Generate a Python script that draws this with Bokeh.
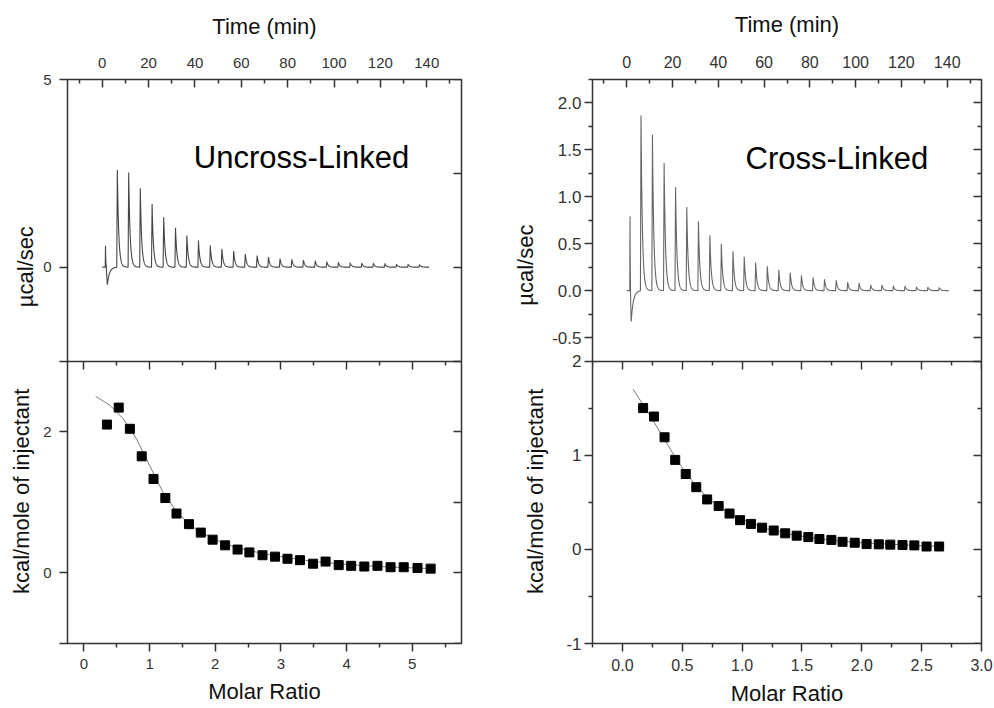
import math
import numpy as np
from bokeh.plotting import figure
from bokeh.models import Range1d, LinearAxis, FixedTicker, PrintfTickFormatter
from bokeh.layouts import row
from bokeh.embed import file_html
from bokeh.resources import INLINE
from bokeh.core.properties import value

# ---------------- data ----------------
# Uncross-Linked thermogram: injection times (min) and peak heights (ucal/sec)
INJ_T_L = [1.4, 6.5, 11.4, 16.4, 21.5, 26.5, 31.6, 36.5, 41.5, 46.6, 51.6, 56.7, 61.7, 66.8,
           71.7, 76.7, 81.8, 86.8, 91.9, 96.9, 101.9, 107.0, 112.0, 117.0, 122.0, 127.0, 132.0, 136.9]
PEAK_L = [0.57, 2.59, 2.52, 2.10, 1.68, 1.33, 1.05, 0.84, 0.71, 0.58, 0.49, 0.43, 0.35, 0.31,
          0.27, 0.23, 0.21, 0.19, 0.17, 0.15, 0.13, 0.12, 0.11, 0.11, 0.10, 0.08, 0.08, 0.07]
DIP_T_L, DIP_H_L, END_T_L = 2.2, -0.47, 141.0

# Cross-Linked thermogram
INJ_T_R = [1.4, 6.2, 11.2, 16.3, 21.3, 26.2, 31.3, 36.3, 41.3, 46.4, 51.3, 56.3, 61.4, 66.4,
           71.4, 76.3, 81.4, 86.4, 91.5, 96.5, 101.5, 106.6, 111.5, 116.5, 121.6, 126.6, 131.6, 136.5]
PEAK_R = [0.79, 1.87, 1.66, 1.36, 1.10, 0.89, 0.74, 0.59, 0.50, 0.42, 0.36, 0.30, 0.26, 0.22,
          0.19, 0.16, 0.14, 0.12, 0.11, 0.09, 0.08, 0.06, 0.06, 0.05, 0.05, 0.04, 0.04, 0.035]
DIP_T_R, DIP_H_R, END_T_R = 1.9, -0.34, 140.7

# Integrated heats (kcal/mole of injectant) vs molar ratio
RATIO_L = [0.35, 0.53, 0.70, 0.88, 1.06, 1.24, 1.41, 1.60, 1.78, 1.96, 2.15, 2.34, 2.52, 2.72,
           2.91, 3.10, 3.29, 3.49, 3.68, 3.88, 4.07, 4.27, 4.47, 4.67, 4.87, 5.08, 5.28]
HEAT_L = [2.10, 2.34, 2.04, 1.65, 1.33, 1.06, 0.84, 0.69, 0.57, 0.47, 0.39, 0.33, 0.29, 0.25,
          0.23, 0.20, 0.18, 0.13, 0.16, 0.11, 0.10, 0.09, 0.10, 0.08, 0.08, 0.07, 0.06]
FIT_X_L = [0.18, 0.4, 0.6, 0.8, 1.0, 1.2, 1.4, 1.6, 1.8, 2.0, 2.25, 2.5, 2.75, 3.0, 3.5, 4.0, 4.5, 5.0, 5.3]
FIT_Y_L = [2.50, 2.37, 2.18, 1.90, 1.52, 1.15, 0.88, 0.69, 0.57, 0.47, 0.38, 0.32, 0.27, 0.23,
           0.16, 0.12, 0.09, 0.07, 0.06]

RATIO_R = [0.173, 0.264, 0.352, 0.441, 0.529, 0.617, 0.708, 0.804, 0.895, 0.983, 1.074, 1.167,
           1.264, 1.360, 1.456, 1.553, 1.646, 1.746, 1.839, 1.941, 2.040, 2.142, 2.238, 2.340,
           2.439, 2.541, 2.646]
HEAT_R = [1.50, 1.41, 1.19, 0.95, 0.80, 0.66, 0.53, 0.46, 0.38, 0.31, 0.27, 0.23, 0.20, 0.17,
          0.145, 0.13, 0.11, 0.10, 0.08, 0.07, 0.056, 0.053, 0.05, 0.046, 0.042, 0.03, 0.03]
FIT_X_R = [0.09, 0.17, 0.26, 0.35, 0.44, 0.53, 0.62, 0.71, 0.80, 0.90, 1.0, 1.2, 1.4, 1.6, 1.8,
           2.0, 2.3, 2.65]
FIT_Y_R = [1.70, 1.54, 1.36, 1.17, 0.98, 0.81, 0.67, 0.55, 0.46, 0.38, 0.32, 0.22, 0.16, 0.12,
           0.09, 0.07, 0.05, 0.03]

# panel labels
TITLE_L, TITLE_L_X, TITLE_L_Y = "Uncross-Linked", 39.5, 2.93
TITLE_R, TITLE_R_X, TITLE_R_Y = "Cross-Linked", 51.9, 1.41
Y_TITLE_TOP = "\u00b5cal/sec"
Y_TITLE_BOTTOM = "kcal/mole of injectant"
X_TITLE_TOP = "Time (min)"
X_TITLE_BOTTOM = "Molar Ratio"

# axis ranges, ticks and tick labels
TIME_RANGE = (-15, 155)
TIME_MAJOR = [0, 20, 40, 60, 80, 100, 120, 140]
TIME_MINOR = [-10, 10, 30, 50, 70, 90, 110, 130, 150]

UCAL_L_RANGE = (-2.5, 5)
UCAL_L_TICKS = [-2.5, 0, 2.5, 5]
UCAL_L_LABELS = ["", "0", "", "5"]
KCAL_L_RANGE = (-1, 3)
KCAL_L_TICKS = [-1, 0, 1, 2]
KCAL_L_LABELS = ["", "0", "", "2"]
RATIO_L_RANGE = (-0.25, 5.75)
RATIO_L_MAJOR = [0, 1, 2, 3, 4, 5]
RATIO_L_MINOR = [0.5, 1.5, 2.5, 3.5, 4.5, 5.5]

UCAL_R_RANGE = (-0.75, 2.25)
UCAL_R_TICKS = [-0.5, 0.0, 0.5, 1.0, 1.5, 2.0]
UCAL_R_LABELS = ["-0.5", "0.0", "0.5", "1.0", "1.5", "2.0"]
UCAL_R_MINOR = [-0.25, 0.25, 0.75, 1.25, 1.75, 2.25]
KCAL_R_RANGE = (-1, 2)
KCAL_R_TICKS = [-1, 0, 1, 2]
KCAL_R_LABELS = ["-1", "0", "1", "2"]
KCAL_R_MINOR = [-0.5, 0.5, 1.5]
RATIO_R_RANGE = (-0.25, 3.0)
RATIO_R_MAJOR = [0.0, 0.5, 1.0, 1.5, 2.0, 2.5, 3.0]
RATIO_R_MINOR = [-0.25, 0.25, 0.75, 1.25, 1.75, 2.25, 2.75]

# ---------------- style / layout ----------------
FONT = "Liberation Sans"
LINE_C = "#333333"
TICK_TXT_C = "#333333"
TITLE_C = "#111111"
H = 708
TB, BB = 79, 64
FRAME_H = H - TB - BB
TOP_PX = 282


def thermogram(times, heights, dip_t, dip_h, t_end):
    t = np.arange(0.0, t_end, 0.02)
    y = np.zeros_like(t)
    for i, (t0, h) in enumerate(zip(times, heights)):
        rise, tau = (0.12, 0.12) if i == 0 else (0.25, 0.6)
        dt = t - t0
        up = (dt > -rise) & (dt <= 0)
        y[up] += h * (dt[up] + rise) / rise
        dn = dt > 0
        y[dn] += h * np.exp(-dt[dn] / tau)
    dt = t - dip_t
    up = (dt > -0.5) & (dt <= 0)
    y[up] += dip_h * (dt[up] + 0.5) / 0.5
    dn = dt > 0
    y[dn] += dip_h * np.exp(-dt[dn] / 0.9)
    return t, y


def make_axis(ticks, minor, out, label_px=15, standoff=8, labels=True, title=None,
              title_standoff=5, fmt=None, overrides=None, tick_out=8, **kw):
    ax = LinearAxis(ticker=FixedTicker(ticks=ticks, minor_ticks=minor), **kw)
    if out:
        ax.major_tick_out, ax.major_tick_in, ax.minor_tick_out, ax.minor_tick_in = tick_out, 0, 4, 0
    else:
        ax.major_tick_out, ax.major_tick_in, ax.minor_tick_out, ax.minor_tick_in = 0, 8, 0, 4
    ax.major_tick_line_color = LINE_C
    ax.minor_tick_line_color = LINE_C
    ax.major_tick_line_width = 1.5
    ax.minor_tick_line_width = 1.5
    ax.axis_line_color = None
    if labels:
        ax.major_label_text_font = FONT
        ax.major_label_text_font_size = f"{label_px}px"
        ax.major_label_text_color = TICK_TXT_C
        ax.major_label_standoff = standoff
        if fmt:
            ax.formatter = PrintfTickFormatter(format=fmt)
        if overrides:
            ax.major_label_overrides = overrides
    else:
        ax.major_label_text_color = None
        ax.major_label_text_font_size = "1px"
        ax.major_label_standoff = 0
    if title:
        ax.axis_label = title
        ax.axis_label_text_font = FONT
        ax.axis_label_text_font_size = "22px"
        ax.axis_label_text_font_style = "normal"
        ax.axis_label_text_color = TITLE_C
        ax.axis_label_standoff = title_standoff
    return ax


def title_strip(width, x_centers, y_centers):
    """Narrow figure that carries the rotated y-axis titles of one column (page pixels)."""
    f = figure(width=width, height=H, x_range=Range1d(0, width), y_range=Range1d(H, 0),
               x_axis_location=None, y_axis_location=None, output_backend="svg",
               toolbar_location=None, min_border=0)
    f.grid.visible = False
    f.outline_line_color = None
    f.text(x=x_centers, y=y_centers, text=[Y_TITLE_TOP, Y_TITLE_BOTTOM], angle=math.pi / 2,
           text_align="center", text_baseline="middle", text_font=value(FONT),
           text_font_size="22px", text_color=TITLE_C)
    return f


def build(width, lb, rb, inj_t, peaks, dip_t, dip_h, t_end,
          ucal_rng, ucal_ticks, ucal_labels, ucal_minor,
          kcal_rng, kcal_ticks, kcal_labels, kcal_minor,
          ratio_rng, ratio_major, ratio_minor, rx, hy, fx, fy, title, tx, ty,
          x_px, y_px, xfmt, y_std, trace_color):
    t0 = ucal_rng[1] - (ucal_rng[1] - ucal_rng[0]) * FRAME_H / TOP_PX
    t1 = ucal_rng[1]
    k0 = kcal_rng[0]
    k1 = kcal_rng[0] + (kcal_rng[1] - kcal_rng[0]) * FRAME_H / (FRAME_H - TOP_PX)

    def k2m(k):  # kcal value -> shared vertical coordinate of the column
        return t0 + (k - k0) * (t1 - t0) / (k1 - k0)

    p = figure(width=width, height=H, x_range=Range1d(*TIME_RANGE), y_range=Range1d(t0, t1),
               x_axis_location=None, y_axis_location=None, output_backend="svg",
               toolbar_location=None, min_border_left=lb, min_border_right=rb,
               min_border_top=TB, min_border_bottom=BB)
    p.extra_x_ranges = {"ratio": Range1d(*ratio_rng)}
    p.extra_y_ranges = {"kcal": Range1d(k0, k1)}
    p.grid.visible = False
    p.outline_line_color = LINE_C
    p.outline_line_width = 1.5
    p.background_fill_color = "white"
    p.border_fill_color = "white"

    # combined vertical ticks (upper panel in ucal/sec, lower panel in kcal/mole)
    ymaj_all = list(ucal_ticks) + [k2m(k) for k in kcal_ticks]
    ymin = list(ucal_minor) + [k2m(k) for k in kcal_minor]
    ymaj_left = ([v for v, s in zip(ucal_ticks, ucal_labels) if s or v == ucal_rng[0]] +
                 [k2m(k) for k, s in zip(kcal_ticks, kcal_labels) if s or k == kcal_rng[0]])
    over = {}
    for v, s in zip(ucal_ticks, ucal_labels):
        over[v] = s
    for k, s in zip(kcal_ticks, kcal_labels):
        over[k2m(k)] = s

    # axes
    p.add_layout(make_axis(TIME_MAJOR, TIME_MINOR, False, x_px, 12, title=X_TITLE_TOP,
                           title_standoff=16), "above")
    p.add_layout(make_axis(ymaj_left, ymin, True, y_px, y_std, overrides=over, tick_out=8), "left")
    p.add_layout(make_axis(ymaj_all, ymin, False, labels=False, fixed_location=TIME_RANGE[1]),
                 "right")
    div = make_axis(ratio_major, ratio_minor, False, labels=False, x_range_name="ratio",
                    fixed_location=ucal_rng[0])
    div.axis_line_color = LINE_C
    div.axis_line_width = 1.5
    p.add_layout(div, "above")
    p.add_layout(make_axis(ratio_major, ratio_minor, True, x_px, 7, title=X_TITLE_BOTTOM,
                           title_standoff=7, fmt=xfmt, x_range_name="ratio"), "below")

    # glyphs
    t, y = thermogram(inj_t, peaks, dip_t, dip_h, t_end)
    p.line(t, y, line_color=trace_color, line_width=1.1)
    p.line(fx, fy, line_color="#7a7a7a", line_width=1, x_range_name="ratio", y_range_name="kcal")
    p.scatter(rx, hy, marker="square", size=9, color="black", x_range_name="ratio",
              y_range_name="kcal")
    p.text(x=[tx], y=[ty], text=[title], text_font=value(FONT), text_font_size="31px",
           text_baseline="alphabetic", text_align="left", text_color="black")
    return p


titles_left = title_strip(40, [25, 21], [235, 517])
left = build(431, 27, 10, INJ_T_L, PEAK_L, DIP_T_L, DIP_H_L, END_T_L,
             UCAL_L_RANGE, UCAL_L_TICKS, UCAL_L_LABELS, [],
             KCAL_L_RANGE, KCAL_L_TICKS, KCAL_L_LABELS, [],
             RATIO_L_RANGE, RATIO_L_MAJOR, RATIO_L_MINOR,
             RATIO_L, HEAT_L, FIT_X_L, FIT_Y_L, TITLE_L, TITLE_L_X, TITLE_L_Y,
             15, 15, None, 8, "#454545")

titles_right = title_strip(78, [54, 64], [233, 517])
right = build(444, 38, 12, INJ_T_R, PEAK_R, DIP_T_R, DIP_H_R, END_T_R,
              UCAL_R_RANGE, UCAL_R_TICKS, UCAL_R_LABELS, UCAL_R_MINOR,
              KCAL_R_RANGE, KCAL_R_TICKS, KCAL_R_LABELS, KCAL_R_MINOR,
              RATIO_R_RANGE, RATIO_R_MAJOR, RATIO_R_MINOR,
              RATIO_R, HEAT_R, FIT_X_R, FIT_Y_R, TITLE_R, TITLE_R_X, TITLE_R_Y,
              16, 17, "%.1f", 3, "#666666")

layout = row(titles_left, left, titles_right, right)
open("out.html", "w").write(file_html(layout, INLINE))
